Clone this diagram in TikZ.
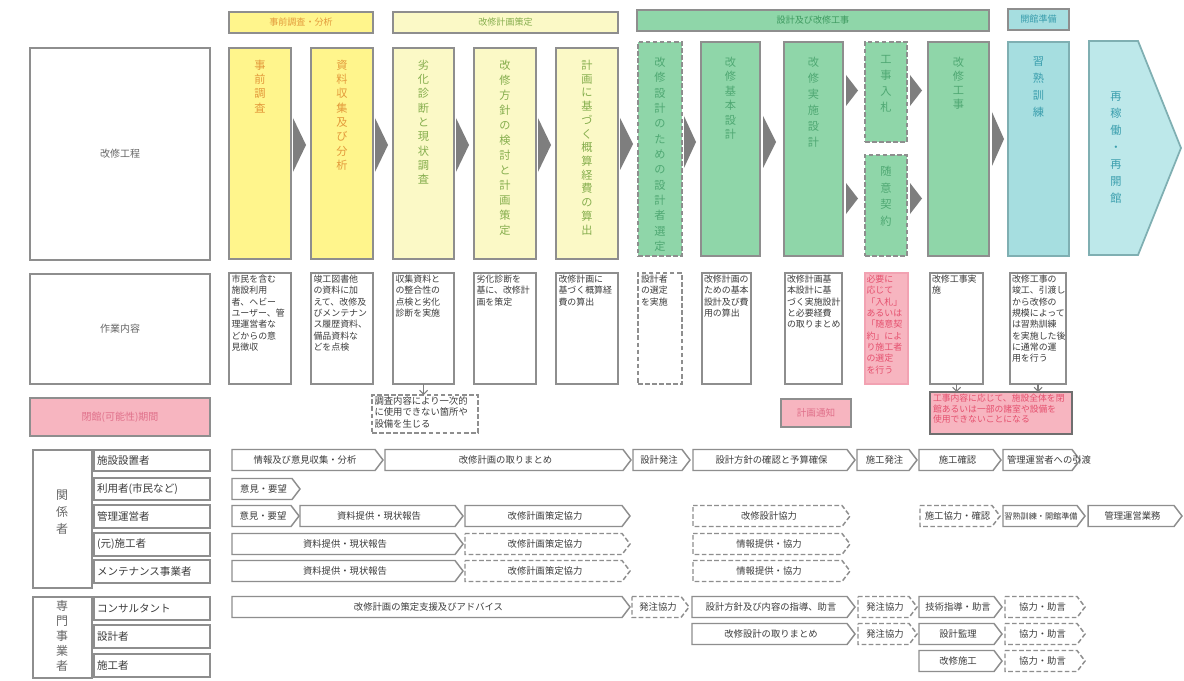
\documentclass[tikz,border=0pt]{standalone}
\usepackage{fontspec}
\setmainfont{Noto Sans CJK JP}
\usetikzlibrary{arrows.meta}
\definecolor{bordergray}{HTML}{8E8E8E}
\definecolor{darkborder}{HTML}{6F6F6F}
\definecolor{yelA}{HTML}{FFF58C}
\definecolor{yelB}{HTML}{FBF9C6}
\definecolor{grnA}{HTML}{8FD6A9}
\definecolor{cynA}{HTML}{A6DEE0}
\definecolor{cynB}{HTML}{BDE8EA}
\definecolor{pnkA}{HTML}{F7B5C0}
\definecolor{pnkB}{HTML}{F2A2B2}
\definecolor{txOrange}{HTML}{E39A3B}
\definecolor{txOlive}{HTML}{86AE4E}
\definecolor{txGreen}{HTML}{4FA873}
\definecolor{txDGreen}{HTML}{3E9A60}
\definecolor{txTeal}{HTML}{3C9FAE}
\definecolor{txRed}{HTML}{E5506E}
\definecolor{txPink}{HTML}{E0708A}
\definecolor{txGray}{HTML}{3C3C3C}
\definecolor{txLight}{HTML}{666666}
\definecolor{arrGray}{HTML}{7E7E7E}
\definecolor{tealBorder}{HTML}{7FAFB2}

\newcommand\myrbox[6]{\node[#6, anchor=north west, minimum width={(#4-#2)*0.75pt}, minimum height={(#5-#3)*0.75pt}] (#1) at (#2,#3) {};}
\newcommand\mybar[6]{\draw[#5] (#2,#4-10.5) -- (#3-8,#4-10.5) -- (#3,#4) -- (#3-8,#4+10.5) -- (#2,#4+10.5) -- cycle; \node[bartext] (#1) at ({(#2+#3-5)/2},#4) {#6};}
\newcommand\mytri[4]{\fill[arrGray] (#1,#3) -- (#2,{(#3+#4)/2}) -- (#1,#4) -- cycle;}

\tikzset{
 bx/.style={draw=bordergray, line width=1.3pt},
 dbx/.style={bx, dash pattern=on 3.5pt off 1.8pt},
 vtext/.style={align=center, anchor=north, font=\fontsize{8.4}{10.7}\selectfont},
 htext/.style={font=\fontsize{6.8}{8}\selectfont},
 wtext/.style={align=left, anchor=north west, text=txGray, font=\fontsize{6.7}{8.5}\selectfont},
 bartext/.style={text=txGray, font=\fontsize{7}{8}\selectfont},
 lbltext/.style={text=txGray, anchor=west, font=\fontsize{7.9}{9}\selectfont},
 sbar/.style={bx, fill=white, line width=1.1pt},
 dbar/.style={dbx, fill=white, line width=1.1pt},
 flecha/.style={draw=arrGray, line width=0.8pt, -{Straight Barb[length=3pt,width=6pt]}},
}

\begin{document}
\begin{tikzpicture}[x=0.75pt,y=-0.75pt, every node/.style={inner sep=0pt, outer sep=0pt}]
\useasboundingbox (0,0) rectangle (1184,681);
\fill[white] (0,0) rectangle (1184,681);

% ---------- header bars
\myrbox{h1}{229}{12}{373}{33}{bx, fill=yelA}
\node[htext, text=txOrange] (th1) at (h1) {事前調査・分析};
\myrbox{h2}{393}{12}{618}{33}{bx, fill=yelB}
\node[htext, text=txOlive] (th2) at (h2) {改修計画策定};
\myrbox{h3}{637}{10}{989}{31}{bx, fill=grnA}
\node[htext, text=txDGreen] (th3) at (h3) {設計及び改修工事};
\myrbox{h4}{1008}{9}{1069}{30}{bx, fill=cynA}
\node[htext, text=txTeal] (th4) at (h4) {開館準備};

% ---------- left label boxes
\myrbox{L1}{30}{48}{210}{260}{bx, fill=white}
\node[text=txLight, font=\fontsize{7.5}{9}\selectfont] (tL1) at (L1) {改修工程};
\myrbox{L2}{30}{274}{210}{384}{bx, fill=white}
\node[text=txLight, font=\fontsize{7.5}{9}\selectfont] (tL2) at (L2) {作業内容};

% ---------- process boxes
\myrbox{p1}{229}{48}{291}{259}{bx, fill=yelA}
\myrbox{p2}{311}{48}{373}{259}{bx, fill=yelA}
\myrbox{p3}{393}{48}{454}{259}{bx, fill=yelB}
\myrbox{p4}{474}{48}{536}{259}{bx, fill=yelB}
\myrbox{p5}{556}{48}{618}{259}{bx, fill=yelB}
\myrbox{p6}{638}{42}{682}{256}{dbx, fill=grnA}
\myrbox{p7}{701}{42}{760}{256}{bx, fill=grnA}
\myrbox{p8}{784}{42}{843}{256}{bx, fill=grnA}
\myrbox{p9}{865}{42}{907}{142}{dbx, fill=grnA}
\myrbox{p10}{865}{155}{907}{256}{dbx, fill=grnA}
\myrbox{p11}{928}{42}{989}{256}{bx, fill=grnA}
\myrbox{p12}{1008}{42}{1069}{256}{bx, draw=tealBorder, fill=cynA}
\draw[bx, draw=tealBorder, fill=cynB] (1089,41) -- (1138,41) -- (1181,148) -- (1138,255) -- (1089,255) -- cycle;

\node[vtext, text=txOrange] (tp1) at (260,60) {事\\前\\調\\査};
\node[vtext, text=txOrange] (tp2) at (342,60) {資\\料\\収\\集\\及\\び\\分\\析};
\node[vtext, text=txOlive] (tp3) at (423.5,60) {劣\\化\\診\\断\\と\\現\\状\\調\\査};
\node[vtext, text=txOlive, font=\fontsize{8.4}{11.25}\selectfont] (tp4) at (505,60) {改\\修\\方\\針\\の\\検\\討\\と\\計\\画\\策\\定};
\node[vtext, text=txOlive, font=\fontsize{8.4}{10.3}\selectfont] (tp5) at (587,60) {計\\画\\に\\基\\づ\\く\\概\\算\\経\\費\\の\\算\\出};
\node[vtext, text=txGreen, font=\fontsize{8.4}{11.5}\selectfont] (tp6) at (660,57) {改\\修\\設\\計\\の\\た\\め\\の\\設\\計\\者\\選\\定};
\node[vtext, text=txGreen, font=\fontsize{8.4}{10.8}\selectfont] (tp7) at (730.5,57) {改\\修\\基\\本\\設\\計};
\node[vtext, text=txGreen, font=\fontsize{8.4}{12}\selectfont] (tp8) at (813.5,57) {改\\修\\実\\施\\設\\計};
\node[vtext, text=txGreen, font=\fontsize{8.4}{12}\selectfont] (tp9) at (886,55) {工\\事\\入\\札};
\node[vtext, text=txGreen, font=\fontsize{8.4}{12.5}\selectfont] (tp10) at (886,166) {随\\意\\契\\約};
\node[vtext, text=txGreen, font=\fontsize{8.4}{10.5}\selectfont] (tp11) at (958.5,57) {改\\修\\工\\事};
\node[vtext, text=txTeal, font=\fontsize{8.4}{12.75}\selectfont] (tp12) at (1038.5,57) {習\\熟\\訓\\練};
\node[align=center, text=txTeal, font=\fontsize{8.4}{12.75}\selectfont] (tp13) at (1116,148) {再\\稼\\働\\・\\再\\開\\館};

% process arrows
\mytri{293}{306}{118}{172}
\mytri{375}{388}{118}{172}
\mytri{456}{469}{118}{172}
\mytri{538}{551}{118}{172}
\mytri{620}{633}{118}{170}
\mytri{684}{696}{116}{168}
\mytri{763}{776}{116}{168}
\mytri{846}{858}{75}{106}
\mytri{846}{858}{183}{214}
\mytri{910}{922}{75}{106}
\mytri{910}{922}{183}{214}
\mytri{992}{1004}{112}{166}

% ---------- work content boxes
\myrbox{w1}{229}{273}{291}{384}{bx, fill=white}
\myrbox{w2}{311}{273}{373}{384}{bx, fill=white}
\myrbox{w3}{393}{273}{454}{384}{bx, fill=white}
\myrbox{w4}{474}{273}{536}{384}{bx, fill=white}
\myrbox{w5}{556}{273}{618}{384}{bx, fill=white}
\myrbox{w6}{638}{273}{682}{384}{dbx, fill=white}
\myrbox{w7}{702}{273}{751}{384}{bx, fill=white}
\myrbox{w8}{785}{273}{842}{384}{bx, fill=white}
\myrbox{w9}{865}{273}{908}{384}{draw=pnkB, line width=1.3pt, fill=pnkA}
\myrbox{w10}{930}{273}{983}{384}{bx, fill=white}
\myrbox{w11}{1010}{273}{1066}{384}{bx, fill=white}

\node[wtext] (tw1) at (231.5,275) {市民を含む\\施設利用\\者、ヘビー\\ユーザー、管\\理運営者な\\どからの意\\見徴収};
\node[wtext] (tw2) at (313.5,275) {竣工図書他\\の資料に加\\えて、改修及\\びメンテナン\\ス履歴資料、\\備品資料な\\どを点検};
\node[wtext] (tw3) at (395.5,275) {収集資料と\\の整合性の\\点検と劣化\\診断を実施};
\node[wtext] (tw4) at (476.5,275) {劣化診断を\\基に、改修計\\画を策定};
\node[wtext] (tw5) at (558.5,275) {改修計画に\\基づく概算経\\費の算出};
\node[wtext] (tw6) at (641,275) {設計者\\の選定\\を実施};
\node[wtext] (tw7) at (704,275) {改修計画の\\ための基本\\設計及び費\\用の算出};
\node[wtext] (tw8) at (787,275) {改修計画基\\本設計に基\\づく実施設計\\と必要経費\\の取りまとめ};
\node[wtext, text=txRed] (tw9) at (866.5,275) {必要に\\応じて\\「入札」\\あるいは\\「随意契\\約」によ\\り施工者\\の選定\\を行う};
\node[wtext] (tw10) at (932,275) {改修工事実\\施};
\node[wtext] (tw11) at (1012,275) {改修工事の\\竣工、引渡し\\から改修の\\規模によって\\は習熟訓練\\を実施した後\\に通常の運\\用を行う};

% ---------- middle row
\myrbox{m1}{30}{398}{210}{436}{bx, fill=pnkA}
\node[text=txPink, font=\fontsize{7.5}{9}\selectfont] (tm1) at (m1) {閉館(可能性)期間};
\myrbox{m2}{372}{395}{478}{433}{dbx, fill=white}
\node[wtext, font=\fontsize{7}{8.3}\selectfont] (tm2) at (374.5,397) {調査内容により一次的\\に使用できない箇所や\\設備を生じる};
\myrbox{m3}{781}{399}{851}{427}{bx, fill=pnkA}
\node[text=txPink, font=\fontsize{7.2}{9}\selectfont] (tm3) at (m3) {計画通知};
\myrbox{m4}{930}{392}{1072}{434}{draw=darkborder, line width=1.6pt, fill=pnkA}
\node[wtext, text=txRed, font=\fontsize{6.6}{7.9}\selectfont] (tm4) at (933,394.5) {工事内容に応じて、施設全体を閉\\館あるいは一部の諸室や設備を\\使用できないことになる};

\draw[flecha] (w3.south) -- (w3.south |- m2.north);
\draw[flecha] (w10.south) -- (w10.south |- m4.north);
\draw[flecha] (w11.south) -- (w11.south |- m4.north);

% ---------- stakeholders
\myrbox{g1}{33}{450}{92}{588}{bx, fill=white}
\node[align=center, anchor=north, text=txLight, font=\fontsize{9}{12.75}\selectfont] (tg1) at (62,490) {関\\係\\者};
\myrbox{r1}{94}{450}{210}{471}{bx, fill=white}
\node[lbltext] (tr1) at (97,460.5) {施設設置者};
\myrbox{r2}{94}{478}{210}{500}{bx, fill=white}
\node[lbltext] (tr2) at (97,489) {利用者(市民など)};
\myrbox{r3}{94}{505}{210}{528}{bx, fill=white}
\node[lbltext] (tr3) at (97,516.5) {管理運営者};
\myrbox{r4}{94}{533}{210}{556}{bx, fill=white}
\node[lbltext] (tr4) at (97,544.5) {(元)施工者};
\myrbox{r5}{94}{560}{210}{583}{bx, fill=white}
\node[lbltext] (tr5) at (97,571.5) {メンテナンス事業者};

\myrbox{g2}{33}{597}{92}{678}{bx, fill=white}
\node[align=center, anchor=north, text=txLight, font=\fontsize{9}{11.25}\selectfont] (tg2) at (62,600) {専\\門\\事\\業\\者};
\myrbox{s1}{94}{597}{210}{620}{bx, fill=white}
\node[lbltext] (ts1) at (97,608.5) {コンサルタント};
\myrbox{s2}{94}{625}{210}{648}{bx, fill=white}
\node[lbltext] (ts2) at (97,636.5) {設計者};
\myrbox{s3}{94}{654}{210}{677}{bx, fill=white}
\node[lbltext] (ts3) at (97,665.5) {施工者};

% row 1
\mybar{b11}{232}{383}{460}{sbar}{情報及び意見収集・分析}
\mybar{b12}{385}{631}{460}{sbar}{改修計画の取りまとめ}
\mybar{b13}{633}{690}{460}{sbar}{設計発注}
\mybar{b14}{693}{855}{460}{sbar}{設計方針の確認と予算確保}
\mybar{b15}{857}{917}{460}{sbar}{施工発注}
\mybar{b16}{919}{1001}{460}{sbar}{施工確認}
\draw[sbar] (1003,449.5) -- (1072,449.5) -- (1080,460) -- (1072,470.5) -- (1003,470.5) -- cycle;
\node[bartext, anchor=west] (b17) at (1007,460) {管理運営者への引渡};
% row 2
\mybar{b21}{232}{300}{489}{sbar}{意見・要望}
% row 3
\mybar{b31}{232}{299}{516}{sbar}{意見・要望}
\mybar{b32}{300}{463}{516}{sbar}{資料提供・現状報告}
\mybar{b33}{465}{630}{516}{sbar}{改修計画策定協力}
\mybar{b34}{693}{850}{516}{dbar}{改修設計協力}
\mybar{b35}{920}{1000}{516}{dbar}{施工協力・確認}
\draw[sbar] (1003,505.5) -- (1077,505.5) -- (1085,516) -- (1077,526.5) -- (1003,526.5) -- cycle;
\node[bartext, font=\fontsize{6.1}{8}\selectfont] (b36) at (1041,516) {習熟訓練・開館準備};
\mybar{b37}{1088}{1182}{516}{sbar}{管理運営業務}
% row 4
\mybar{b41}{232}{463}{544}{sbar}{資料提供・現状報告}
\mybar{b42}{465}{630}{544}{dbar}{改修計画策定協力}
\mybar{b43}{693}{850}{544}{dbar}{情報提供・協力}
% row 5
\mybar{b51}{232}{463}{571}{sbar}{資料提供・現状報告}
\mybar{b52}{465}{630}{571}{dbar}{改修計画策定協力}
\mybar{b53}{693}{850}{571}{dbar}{情報提供・協力}
% specialist row 1
\mybar{c11}{232}{630}{607}{sbar}{改修計画の策定支援及びアドバイス}
\mybar{c12}{632}{689}{607}{dbar}{発注協力}
\mybar{c13}{692}{855}{607}{sbar}{設計方針及び内容の指導、助言}
\mybar{c14}{858}{917}{607}{dbar}{発注協力}
\mybar{c15}{919}{1002}{607}{sbar}{技術指導・助言}
\mybar{c16}{1005}{1085}{607}{dbar}{協力・助言}
% specialist row 2
\mybar{c21}{692}{855}{634}{sbar}{改修設計の取りまとめ}
\mybar{c22}{858}{917}{634}{dbar}{発注協力}
\mybar{c23}{919}{1002}{634}{sbar}{設計監理}
\mybar{c24}{1005}{1085}{634}{dbar}{協力・助言}
% specialist row 3
\mybar{c31}{919}{1002}{661}{sbar}{改修施工}
\mybar{c32}{1005}{1085}{661}{dbar}{協力・助言}
\end{tikzpicture}
\end{document}
